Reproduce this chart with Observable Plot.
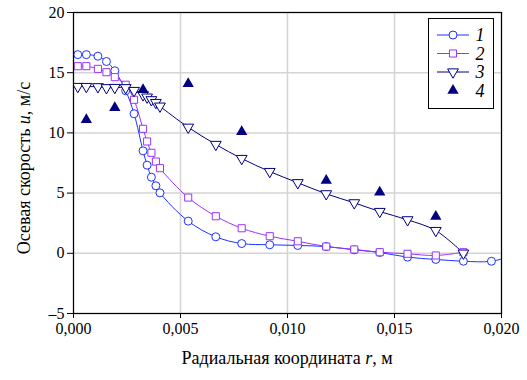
<!DOCTYPE html>
<html>
<head>
<meta charset="utf-8">
<script src="https://cdn.jsdelivr.net/npm/d3@7"></script>
<script src="https://cdn.jsdelivr.net/npm/@observablehq/plot@0.6"></script>
<style>
  body { margin: 0; background: white; }
  svg { display: block; }
</style>
</head>
<body>
<div id="chart"></div>
<script>
// Data
const r1 = [0.0002, 0.0006, 0.00114, 0.00154, 0.00193, 0.00244, 0.00283, 0.00325, 0.00344, 0.00364, 0.00385, 0.00404, 0.00536, 0.00665, 0.00786, 0.00917, 0.01048, 0.01181, 0.01312, 0.01431, 0.01561, 0.01693, 0.01822, 0.01953, 0.0207];
const u1 = [16.5, 16.5, 16.37, 15.93, 15.16, 13.5, 11.59, 8.51, 7.32, 6.32, 5.61, 5.02, 2.67, 1.37, 0.81, 0.71, 0.65, 0.56, 0.29, 0.07, -0.32, -0.51, -0.66, -0.66, -0.1];
const r23 = [0.0002, 0.0006, 0.00114, 0.00154, 0.00193, 0.00244, 0.00283, 0.00325, 0.00344, 0.00364, 0.00385, 0.00404, 0.00536, 0.00665, 0.00786, 0.00917, 0.01048, 0.01181, 0.01312, 0.01431, 0.01561, 0.01693, 0.01822];
const u2 = [15.54, 15.54, 15.32, 15.04, 14.63, 14.0, 12.75, 10.34, 9.29, 8.35, 7.62, 7.07, 4.63, 3.08, 2.08, 1.42, 1.0, 0.56, 0.32, 0.09, -0.04, -0.18, 0.09];
const u3 = [13.85, 13.85, 13.83, 13.75, 13.77, 13.75, 13.52, 13.16, 12.97, 12.75, 12.52, 12.22, 10.47, 9.04, 7.87, 6.79, 5.86, 4.94, 4.19, 3.47, 2.78, 1.89, 0.01];
const r4 = [0.0006, 0.00193, 0.00325, 0.00536, 0.00786, 0.01181, 0.01431, 0.01693];
const u4 = [11.09, 12.08, 13.58, 14.08, 10.09, 6.05, 5.07, 3.06];
const xTicks = [0, 0.005, 0.010, 0.015, 0.020];
const yTicks = [-5, 0, 5, 10, 15, 20];
const seriesNames = ["1", "2", "3", "4"];
const colors = ["#1a33ff", "#9933ff", "#000080", "#000080"];

const s1 = r1.map((x, i) => ({x, y: u1[i]}));
const s2 = r23.map((x, i) => ({x, y: u2[i]}));
const s3 = r23.map((x, i) => ({x, y: u3[i]}));
const s4 = r4.map((x, i) => ({x, y: u4[i]}));

const triDown = {
  draw(context, size) {
    const y = Math.sqrt(size / (Math.sqrt(3) * 3));
    context.moveTo(0, 2 * y);
    context.lineTo(-Math.sqrt(3) * y, -y);
    context.lineTo(Math.sqrt(3) * y, -y);
    context.closePath();
  }
};

const font = "Liberation Serif";
const fmtX = d => d.toFixed(3).replace(".", ",");
const fmtY = d => (d < 0 ? "\u2013" + Math.abs(d) : String(d));

const chart = Plot.plot({
  width: 527,
  height: 380,
  marginLeft: 73,
  marginRight: 26,
  marginTop: 12,
  marginBottom: 67,
  style: {fontFamily: font, fontSize: "16px", background: "white", color: "black", overflow: "visible"},
  x: {domain: [0, 0.02]},
  y: {domain: [-5, 20]},
  marks: [
    Plot.gridX(xTicks, {stroke: "#d4d4d4", strokeOpacity: 1, strokeWidth: 1.5}),
    Plot.gridY(yTicks, {stroke: "#d4d4d4", strokeOpacity: 1, strokeWidth: 1.5}),
    Plot.axisX(xTicks, {tickSize: 5, tickPadding: 4, tickFormat: fmtX, label: null, fontSize: 16, stroke: "black"}),
    Plot.axisY(yTicks, {tickSize: 6, tickPadding: 3, tickFormat: fmtY, label: null, fontSize: 16, stroke: "black"}),
    Plot.line(s1, {x: "x", y: "y", stroke: colors[0], strokeWidth: 1, curve: "catmull-rom", clip: true}),
    Plot.line(s2, {x: "x", y: "y", stroke: colors[1], strokeWidth: 1, curve: "catmull-rom", clip: true}),
    Plot.line(s3, {x: "x", y: "y", stroke: colors[2], strokeWidth: 1, curve: "catmull-rom", clip: true}),
    Plot.dot(s1, {x: "x", y: "y", symbol: "circle", r: 4, stroke: colors[0], fill: "white", strokeWidth: 1, clip: true}),
    Plot.dot(s2, {x: "x", y: "y", symbol: "square", r: 4, stroke: colors[1], fill: "white", strokeWidth: 1, clip: true}),
    Plot.dot(s3, {x: "x", y: "y", symbol: triDown, r: 4, stroke: colors[2], fill: "white", strokeWidth: 1, clip: true}),
    Plot.dot(s4, {x: "x", y: "y", symbol: "triangle", r: 4.2, fill: colors[3], stroke: "none", clip: true}),
    Plot.frame({stroke: "black", strokeWidth: 1.2})
  ]
});

document.getElementById("chart").appendChild(chart);

const svg = d3.select(chart);
svg.attr("font-family", font);

// X axis title with italic r
const xt = svg.append("text")
  .attr("x", 287).attr("y", 364)
  .attr("text-anchor", "middle")
  .attr("font-size", 18).attr("fill", "black");
xt.append("tspan").text("Радиальная координата ");
xt.append("tspan").attr("font-style", "italic").text("r");
xt.append("tspan").text(", м");

// Y axis title with italic u
const yt = svg.append("text")
  .attr("transform", "translate(30,168) rotate(-90)")
  .attr("text-anchor", "middle")
  .attr("font-size", 18).attr("fill", "black");
yt.append("tspan").text("Осевая скорость ");
yt.append("tspan").attr("font-style", "italic").text("u");
yt.append("tspan").text(", м/с");

// Legend
const lg = svg.append("g");
lg.append("rect").attr("x", 428.5).attr("y", 18.5).attr("width", 65).attr("height", 90)
  .attr("fill", "white").attr("stroke", "black").attr("stroke-width", 1);
const ly = [35, 53.5, 72, 90.5];
const symbols = [d3.symbolCircle, d3.symbolSquare, triDown, d3.symbolTriangle];
seriesNames.forEach((name, i) => {
  const y = ly[i];
  if (i < 3) {
    lg.append("line").attr("x1", 437).attr("x2", 469).attr("y1", y).attr("y2", y)
      .attr("stroke", colors[i]).attr("stroke-width", 1);
  }
  lg.append("path")
    .attr("d", d3.symbol(symbols[i], Math.PI * (i === 3 ? 4.2 * 4.2 : 16))())
    .attr("transform", `translate(453,${y})`)
    .attr("fill", i === 3 ? colors[i] : "white")
    .attr("stroke", i === 3 ? "none" : colors[i])
    .attr("stroke-width", 1);
  lg.append("text").attr("x", 480).attr("y", y + 6).attr("text-anchor", "middle")
    .attr("font-size", 18).attr("font-style", "italic")
    .attr("fill", "black").text(name);
});

// Force the serif face on every text node (inline !important)
svg.selectAll("text, tspan").each(function() {
  this.setAttribute("font-family", font);
  this.style.setProperty("font-family", "'Liberation Serif'", "important");
});
chart.style.setProperty("font-family", "'Liberation Serif'", "important");
</script>
</body>
</html>
